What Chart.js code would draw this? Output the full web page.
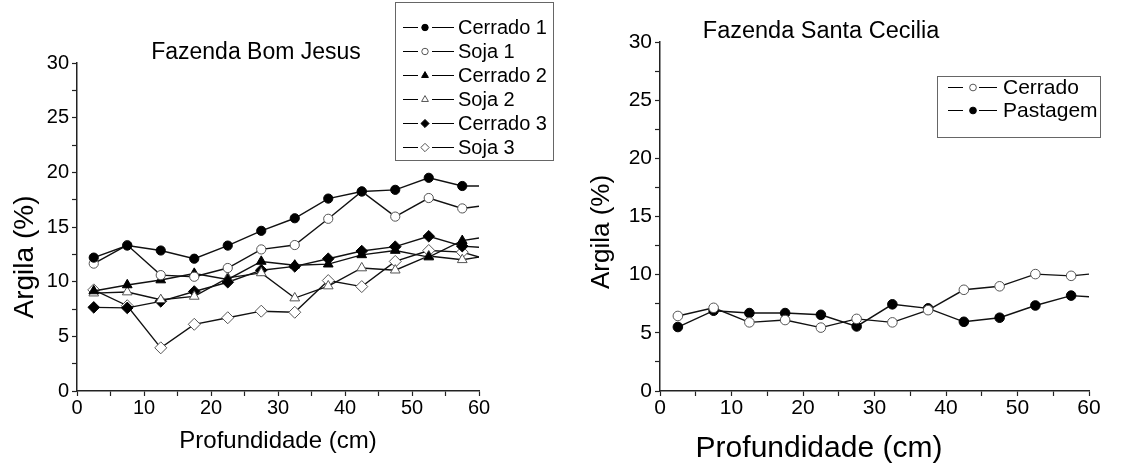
<!DOCTYPE html>
<html>
<head>
<meta charset="utf-8">
<script src="https://cdn.jsdelivr.net/npm/chart.js@4.4.0/dist/chart.umd.min.js"></script>
<style>
  html, body { margin: 0; padding: 0; background: #fff; }
  #wrap { position: relative; width: 1130px; height: 466px; }
  .box { position: absolute; top: 0; width: 565px; height: 466px; }
</style>
</head>
<body>
<div id="wrap">
  <div class="box" style="left:0"><canvas id="bomJesus"></canvas></div>
  <div class="box" style="left:565px"><canvas id="santaCecilia"></canvas></div>
</div>
<script>
const FONT = "'Liberation Sans', Arial, sans-serif";

// depth (cm) of each sample; the last one is where the line runs out at the axis edge
const depth = [2.5, 7.5, 12.5, 17.5, 22.5, 27.5, 32.5, 37.5, 42.5, 47.5, 52.5, 57.5, 60];

// Fazenda Bom Jesus - argila (%)
const cerrado1 = [12.2, 13.3, 12.85, 12.1, 13.3, 14.65, 15.8, 17.6, 18.25, 18.4, 19.5, 18.75, 18.75];
const soja1    = [11.65, 13.35, 10.6, 10.45, 11.25, 12.95, 13.35, 15.75, 18.25, 15.95, 17.65, 16.7, 16.9];
const cerrado2 = [9.15, 9.7, 10.15, 10.75, 10.2, 11.85, 11.5, 11.6, 12.45, 12.85, 12.25, 13.75, 14.0];
const soja2    = [8.95, 9.05, 8.35, 8.65, 10.35, 10.8, 8.5, 9.6, 11.25, 11.05, 12.35, 12.0, 12.25];
const cerrado3 = [7.65, 7.6, 8.2, 9.1, 9.95, 11.05, 11.4, 12.1, 12.8, 13.2, 14.15, 13.25, 13.15];
const soja3    = [9.25, 7.8, 3.95, 6.1, 6.7, 7.3, 7.2, 10.1, 9.55, 11.85, 12.85, 12.7, 12.25];

// Fazenda Santa Cecilia - argila (%)
const cerradoSC = [6.45, 7.15, 5.9, 6.1, 5.45, 6.2, 5.9, 6.95, 8.7, 9.0, 10.05, 9.9, 10.05];
const pastagem  = [5.5, 6.9, 6.7, 6.7, 6.55, 5.55, 7.45, 7.1, 5.95, 6.3, 7.35, 8.2, 8.1];

const xTicks = [0, 10, 20, 30, 40, 50, 60];
const yTicks = [0, 5, 10, 15, 20, 25, 30];

function series(label, values, style, filled, radius) {
  return {
    label,
    data: values.map((v, i) => ({ x: depth[i], y: v })),
    borderColor: '#111',
    borderWidth: 1.4,
    tension: 0,
    pointStyle: style,
    pointBackgroundColor: filled ? '#000' : '#fff',
    pointBorderColor: filled ? '#000' : '#555',
    pointBorderWidth: 1,
    // no marker on the stub that runs to the frame edge
    pointRadius: (c) => (c.raw && c.raw.x >= 60 ? 0 : radius),
    pointHoverRadius: 0,
    legendRadius: radius * 0.7,
  };
}

// titles, axis labels and the framed legend
const decor = {
  id: 'decor',
  afterDraw(chart, args, o) {
    const ctx = chart.ctx;
    ctx.save();
    ctx.fillStyle = '#000';
    ctx.textAlign = 'center';
    ctx.textBaseline = 'alphabetic';
    ctx.font = `${o.title.size}px ${FONT}`;
    ctx.fillText(o.title.text, o.title.x, o.title.y);
    ctx.font = `${o.xlabel.size}px ${FONT}`;
    ctx.fillText(o.xlabel.text, o.xlabel.x, o.xlabel.y);
    ctx.save();
    ctx.translate(o.ylabel.x, o.ylabel.y);
    ctx.rotate(-Math.PI / 2);
    ctx.textBaseline = 'middle';
    ctx.font = `${o.ylabel.size}px ${FONT}`;
    ctx.fillText(o.ylabel.text, 0, 0);
    ctx.restore();

    const lg = o.legend;
    ctx.strokeStyle = '#666';
    ctx.lineWidth = 1;
    ctx.strokeRect(lg.x + 0.5, lg.y + 0.5, lg.w, lg.h);
    ctx.font = `${lg.size}px ${FONT}`;
    ctx.textAlign = 'left';
    ctx.textBaseline = 'middle';
    chart.data.datasets.forEach((ds, i) => {
      const y = Math.round(lg.first + i * lg.step) + 0.5;
      ctx.strokeStyle = '#000';
      ctx.lineWidth = 1.2;
      ctx.beginPath();
      ctx.moveTo(lg.dash[0], y); ctx.lineTo(lg.dash[1], y);
      ctx.moveTo(lg.dash[2], y); ctx.lineTo(lg.dash[3], y);
      ctx.stroke();
      ctx.fillStyle = ds.pointBackgroundColor;
      ctx.strokeStyle = ds.pointBorderColor;
      ctx.lineWidth = 1;
      Chart.helpers.drawPoint(ctx, { pointStyle: ds.pointStyle, radius: ds.legendRadius, rotation: 0, borderWidth: 1 }, lg.mark, y);
      ctx.fillStyle = '#000';
      ctx.fillText(ds.label, lg.text, y + 1);
    });
    ctx.restore();
  }
};

function axes(width, tickSize) {
  const common = {
    type: 'linear',
    border: { display: true, color: '#222', width: 1.5 },
    grid: { drawOnChartArea: false, drawTicks: true, tickLength: 5, tickColor: '#222', tickWidth: 1.2 },
  };
  return {
    x: {
      ...common,
      min: 0, max: 60,
      afterFit: (s) => { s.height = 75; },
      afterBuildTicks: (s) => { s.ticks = [0, 5, 10, 15, 20, 25, 30, 35, 40, 45, 50, 55, 60].map(v => ({ value: v })); },
      ticks: {
        color: '#000', padding: 0, maxRotation: 0, autoSkip: false,
        font: { family: FONT, size: tickSize },
        callback: (v) => (xTicks.includes(v) ? v : ''),
      },
    },
    y: {
      ...common,
      min: 0, max: 30,
      afterFit: (s) => { s.width = width; },
      afterBuildTicks: (s) => { s.ticks = [0, 2.5, 5, 7.5, 10, 12.5, 15, 17.5, 20, 22.5, 25, 27.5, 30].map(v => ({ value: v })); },
      ticks: {
        color: '#000', padding: 3, autoSkip: false,
        font: { family: FONT, size: tickSize },
        callback: (v) => (yTicks.includes(v) ? v : ''),
      },
    },
  };
}

new Chart(document.getElementById('bomJesus'), {
  type: 'line',
  data: {
    datasets: [
      series('Cerrado 1', cerrado1, 'circle', true, 4.6),
      series('Soja 1', soja1, 'circle', false, 4.6),
      series('Cerrado 2', cerrado2, 'triangle', true, 5.6),
      series('Soja 2', soja2, 'triangle', false, 5.6),
      series('Cerrado 3', cerrado3, 'rectRot', true, 5.8),
      series('Soja 3', soja3, 'rectRot', false, 6),
    ],
  },
  options: {
    responsive: true,
    maintainAspectRatio: false,
    animation: false,
    events: [],
    layout: { padding: { left: 0, top: 63, right: 86, bottom: 0 } },
    scales: axes(77, 20),
    plugins: {
      legend: { display: false },
      tooltip: { enabled: false },
      decor: {
        title: { text: 'Fazenda Bom Jesus', x: 256, y: 59, size: 23 },
        xlabel: { text: 'Profundidade (cm)', x: 278, y: 448, size: 24 },
        ylabel: { text: 'Argila (%)', x: 25, y: 257, size: 28 },
        legend: { x: 395, y: 2, w: 158, h: 158, first: 27, step: 24, size: 20, dash: [403, 418, 432, 454], mark: 425, text: 458 },
      },
    },
  },
  plugins: [decor],
});

new Chart(document.getElementById('santaCecilia'), {
  type: 'line',
  data: {
    datasets: [
      series('Cerrado', cerradoSC, 'circle', false, 4.8),
      series('Pastagem', pastagem, 'circle', true, 4.8),
    ],
  },
  options: {
    responsive: true,
    maintainAspectRatio: false,
    animation: false,
    events: [],
    layout: { padding: { left: 0, top: 42, right: 41, bottom: 0 } },
    scales: axes(95, 21),
    plugins: {
      legend: { display: false },
      tooltip: { enabled: false },
      decor: {
        title: { text: 'Fazenda Santa Cecilia', x: 256, y: 38, size: 23.5 },
        xlabel: { text: 'Profundidade (cm)', x: 254, y: 457, size: 30 },
        ylabel: { text: 'Argila (%)', x: 37, y: 232, size: 26 },
        legend: { x: 372, y: 76, w: 163, h: 61, first: 87, step: 23, size: 21, dash: [383, 398, 414, 432], mark: 408, text: 438 },
      },
    },
  },
  plugins: [decor],
});
</script>
</body>
</html>
